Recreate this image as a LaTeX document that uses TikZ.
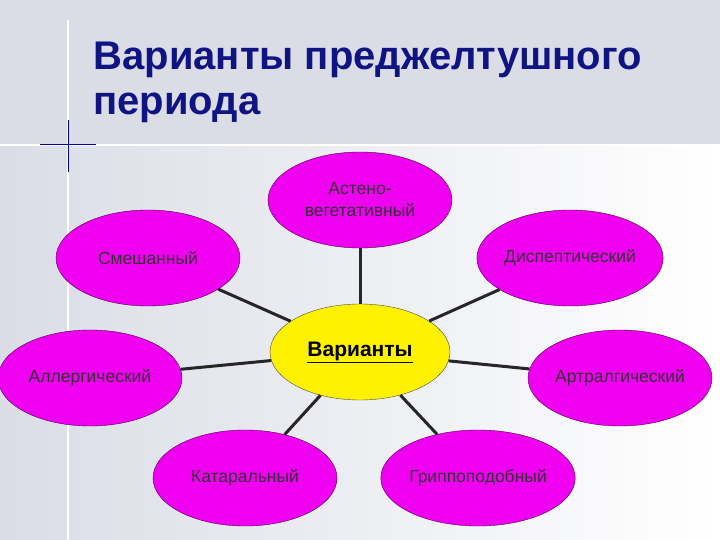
\documentclass[tikz,border=0pt]{standalone}
\usepackage{fontspec}
\setmainfont{Liberation Sans}
\usetikzlibrary{shapes.geometric}
\definecolor{mag}{RGB}{240,0,240}
\definecolor{bg}{RGB}{218,221,230}
\definecolor{navy}{RGB}{16,20,130}
\begin{document}
\begin{tikzpicture}[x=1pt,y=-1pt,
  opt/.style={ellipse,draw=violet!60!black,fill=mag,minimum width=184pt,minimum height=96pt,inner sep=0pt,align=center,font=\fontsize{17.5}{22}\selectfont,text=black!80},
  link/.style={line width=3pt,black!85}]
\useasboundingbox (0,0) rectangle (720,540);
\shade[left color=bg,right color=white] (0,0) rectangle (720,540);
\fill[bg] (0,0) rectangle (720,145);
\draw[white,line width=2pt] (0,145) -- (720,145);
\draw[white,line width=2pt] (68,20) -- (68,540);
\draw[blue!60!black,line width=1pt] (40,145) -- (96,145);
\draw[blue!60!black,line width=1pt] (68,120) -- (68,172);
\node[anchor=west,text=navy,font=\bfseries\fontsize{40}{45}\selectfont,align=left] (title) at (90,82) {Варианты преджелтушного\\периода};
\node[opt] (a) at (360,200) {Астено-\\вегетативный};
\node[opt] (s) at (148,258) {Смешанный};
\node[opt] (d) at (570,258) {Диспептический};
\node[opt] (al) at (90,378) {Аллергический};
\node[opt] (ar) at (620,378) {Артралгический};
\node[opt] (k) at (245,478) {Катаральный};
\node[opt] (g) at (478,478) {Гриппоподобный};
\node[ellipse,draw=black!70,fill=yellow,minimum width=180pt,minimum height=96pt,font=\bfseries\fontsize{21}{25}\selectfont] (c) at (360,352) {\underline{Варианты}};
\foreach \n in {a,s,d,al,ar,k,g} \draw[link] (c) -- (\n);
\end{tikzpicture}
\end{document}
